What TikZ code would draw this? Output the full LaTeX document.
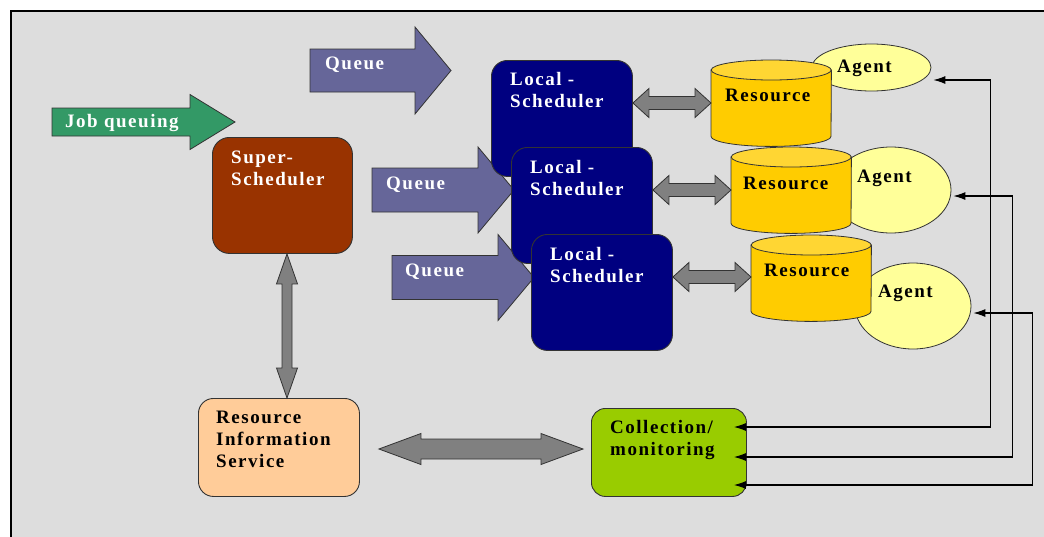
\documentclass[tikz,border=0pt]{standalone}
\usepackage{fontspec}
\setmainfont{Liberation Serif}
\newfontfamily\lbf{Liberation Serif}[LetterSpace=8]
\usetikzlibrary{calc,shapes.geometric,arrows.meta}
\definecolor{bg}{HTML}{DDDDDD}
\definecolor{jobgreen}{HTML}{339966}
\definecolor{queuec}{HTML}{666699}
\definecolor{superc}{HTML}{993300}
\definecolor{localc}{HTML}{000080}
\definecolor{resc}{HTML}{FFCC00}
\definecolor{restop}{HTML}{FFD633}
\definecolor{agentc}{HTML}{FFFF99}
\definecolor{risc}{HTML}{FFCC99}
\definecolor{collc}{HTML}{99CC00}
\definecolor{arrgray}{HTML}{808080}
\definecolor{edge}{HTML}{333333}
\pgfdeclarelayer{bglayer}
\pgfdeclarelayer{backarr}
\pgfsetlayers{bglayer,backarr,main}
\tikzset{
  lbl/.style={font={\lbf\bfseries\fontsize{19}{22}\selectfont}, inner sep=0pt, anchor=base west, align=left},
  wlbl/.style={lbl, text=white},
  blk/.style={draw=edge, line width=0.8pt, line join=miter},
  box/.style={draw=edge, line width=0.9pt, rounded corners=16pt, anchor=north west, inner sep=0pt},
  lsbox/.style={box, fill=localc, minimum width=141pt, minimum height=116pt},
  agentnode/.style={ellipse, draw=edge, line width=0.8pt, fill=agentc, inner sep=0pt},
  cylbox/.style={minimum width=120pt, minimum height=86pt, anchor=north west, inner sep=0pt},
  cylbody/.style={draw=edge, line width=0.8pt, fill=resc},
  cyltop/.style={draw=edge, line width=0.8pt, fill=restop},
  dblar/.style={blk, fill=arrgray},
  conn/.style={draw=black, line width=1.1pt, arrows={Latex[length=12pt,width=8pt]-Latex[length=12pt,width=8pt]}}
}
% block arrow: #1 tail centre, #2 tip, #3 shaft half, #4 head half, #5 head length, #6 colour
\newcommand\blockarrow[6]{%
  \filldraw[blk, fill=#6] ($(#1)+(0,-#3)$) -- ($(#2)+(-#5,-#3)$) -- ($(#2)+(-#5,-#4)$) -- (#2)
    -- ($(#2)+(-#5,#4)$) -- ($(#2)+(-#5,#3)$) -- ($(#1)+(0,#3)$) -- cycle;}
% horizontal double arrow
\newcommand\hdbl[5]{%
  \filldraw[dblar] (#1) -- ($(#1)+(#5,-#4)$) -- ($(#1)+(#5,-#3)$) -- ($(#2)+(-#5,-#3)$) -- ($(#2)+(-#5,-#4)$)
    -- (#2) -- ($(#2)+(-#5,#4)$) -- ($(#2)+(-#5,#3)$) -- ($(#1)+(#5,#3)$) -- ($(#1)+(#5,#4)$) -- cycle;}
% vertical double arrow
\newcommand\vdbl[5]{%
  \filldraw[dblar] (#1) -- ($(#1)+(#4,#5)$) -- ($(#1)+(#3,#5)$) -- ($(#2)+(#3,-#5)$) -- ($(#2)+(#4,-#5)$)
    -- (#2) -- ($(#2)+(-#4,-#5)$) -- ($(#2)+(-#3,-#5)$) -- ($(#1)+(-#3,#5)$) -- ($(#1)+(-#4,#5)$) -- cycle;}
% cylinder drawn inside a named box node
\newcommand\cyl[1]{%
  \filldraw[cylbody] ($(#1.north west)+(0,10)$) -- ($(#1.south west)+(0,-10)$)
    arc[start angle=180, end angle=360, x radius=60pt, y radius=10pt] -- ($(#1.north east)+(0,10)$) -- cycle;
  \filldraw[cyltop] ($(#1.north)+(0,10)$) ellipse[x radius=60pt, y radius=10pt];}
\begin{document}
\begin{tikzpicture}[x=1pt, y=-1pt]
\useasboundingbox (0,0) rectangle (1044,536);
\clip (0,0) rectangle (1044,536);
\begin{pgfonlayer}{bglayer}
\fill[white] (0,0) rectangle (1044,536);
\filldraw[fill=bg, draw=black, line width=2pt] (10.5,10.5) rectangle (1070,570);
\end{pgfonlayer}

% boxes
\node[box, fill=superc, minimum width=140pt, minimum height=116pt, rounded corners=17pt] (ss) at (212,137) {};
\node[lsbox] (ls1) at (491,60) {};
\node[lsbox] (ls2) at (511,147) {};
\node[lsbox] (ls3) at (531,234) {};
\node[box, fill=risc, minimum width=161pt, minimum height=98pt, rounded corners=15pt] (ris) at (198,398) {};
\node[box, fill=collc, minimum width=155pt, minimum height=88pt, rounded corners=14pt] (coll) at (591,408) {};

% block arrows (behind schedulers)
\coordinate (jqt) at (52,122);
\coordinate (jqh) at (235,122);
\coordinate (q1t) at (310,70.5);
\coordinate (q1h) at (451,70.5);
\coordinate (q2t) at (372,190);
\coordinate (q2h) at ($(ls2.west |- 0,190)+(3,0)$);
\coordinate (q3t) at (392,277.5);
\coordinate (q3h) at ($(ls3.west |- 0,277.5)+(3,0)$);
\begin{pgfonlayer}{backarr}
\blockarrow{jqt}{jqh}{14}{27.5}{45}{jobgreen}
\blockarrow{q1t}{q1h}{21.5}{43.5}{36}{queuec}
\blockarrow{q2t}{q2h}{22}{43}{36}{queuec}
\blockarrow{q3t}{q3h}{22}{43}{36}{queuec}
\end{pgfonlayer}

% agents
\node[agentnode, minimum width=119pt, minimum height=47pt] (ag1) at (871.5,67.5) {};
\node[agentnode, minimum width=120pt, minimum height=86pt] (ag2) at (891,190) {};
\node[agentnode, minimum width=116pt, minimum height=86pt] (ag3) at (913,306) {};

% resources
\node[cylbox] (r1) at (711,60) {};
\node[cylbox] (r2) at (731,147) {};
\node[cylbox] (r3) at (751,235) {};
\cyl{r1}
\cyl{r2}
\cyl{r3}

% scheduler <-> resource arrows
\coordinate (d1a) at (ls1.east |- 0,103);
\coordinate (d1b) at (r1.west |- 0,103);
\coordinate (d2a) at (ls2.east |- 0,190);
\coordinate (d2b) at (r2.west |- 0,190);
\coordinate (d3a) at (ls3.east |- 0,277);
\coordinate (d3b) at (r3.west |- 0,277);
\hdbl{d1a}{d1b}{6.5}{14.5}{16}
\hdbl{d2a}{d2b}{6.5}{14.5}{16}
\hdbl{d3a}{d3b}{6.5}{14.5}{16}

% super-scheduler <-> RIS
\coordinate (va) at (ss.south -| 287,0);
\coordinate (vb) at (ris.north -| 287,0);
\vdbl{va}{vb}{5}{10.5}{30}

% RIS <-> collection
\coordinate (ha) at ($(ris.east |- 0,449)+(19,0)$);
\coordinate (hb) at ($(coll.west |- 0,449)+(-8,0)$);
\hdbl{ha}{hb}{10}{15.5}{42}

% monitoring connectors
\coordinate (c1) at ($(coll.east |- 0,427)+(-13,0)$);
\coordinate (c2) at ($(coll.east |- 0,457)+(-13,0)$);
\coordinate (c3) at ($(coll.east |- 0,485)+(-13,0)$);
\coordinate (g1) at ($(ag1.east |- 0,80)+(2,0)$);
\coordinate (g2) at ($(ag2.east |- 0,196)+(2,0)$);
\coordinate (g3) at ($(ag3.east |- 0,313)+(2,0)$);
\draw[conn] (c1) -| ($(g1)+(57,0)$) -- (g1);
\draw[conn] (c2) -| ($(g2)+(59,0)$) -- (g2);
\draw[conn] (c3) -| ($(g3)+(59,0)$) -- (g3);

% texts (multi-line: anchor on last baseline)
\node[wlbl] (tjob) at (65,127) {Job queuing};
\node[wlbl] (tq1) at (325,69) {Queue};
\node[wlbl] (tq2) at (386,189) {Queue};
\node[wlbl] (tq3) at (405,276) {Queue};
\node[wlbl] (tss) at (231,185) {Super-\\Scheduler};
\node[wlbl] (tls1) at (510,107) {Local -\\Scheduler};
\node[wlbl] (tls2) at (530,195) {Local -\\Scheduler};
\node[wlbl] (tls3) at (550,282) {Local -\\Scheduler};
\node[lbl] (tr1) at (725,101) {Resource};
\node[lbl] (tr2) at (743,189) {Resource};
\node[lbl] (tr3) at (764,276) {Resource};
\node[lbl] (ta1) at (837,72) {Agent};
\node[lbl] (ta2) at (857,182) {Agent};
\node[lbl] (ta3) at (878,297) {Agent};
\node[lbl] (tris) at (216,467) {Resource\\Information\\Service};
\node[lbl] (tcoll) at (610,455) {Collection/\\monitoring};
\end{tikzpicture}
\end{document}
